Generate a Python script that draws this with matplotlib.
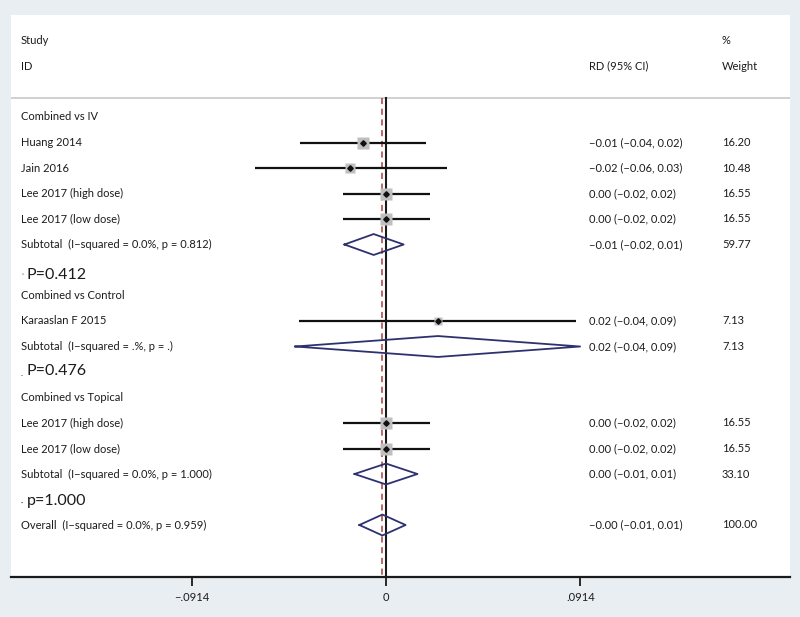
import matplotlib
matplotlib.use("Agg")
import matplotlib.pyplot as plt
from matplotlib.transforms import blended_transform_factory
import numpy as np

plt.rcParams['font.family'] = ['Lato', 'DejaVu Sans']

# ---------------- data ----------------
group_labels = ["Combined vs IV", "Combined vs Control", "Combined vs Topical"]
group_rows = [0, 7, 11]

study_labels = ["Huang 2014", "Jain 2016", "Lee 2017 (high dose)", "Lee 2017 (low dose)",
                "Karaaslan F 2015", "Lee 2017 (high dose)", "Lee 2017 (low dose)"]
study_rows = [1, 2, 3, 4, 8, 12, 13]
study_est = [-0.0108, -0.0168, 0.0000, 0.0000, 0.0244, 0.0000, 0.0000]
study_lo = [-0.0403, -0.0617, -0.0204, -0.0204, -0.0407, -0.0204, -0.0204]
study_hi = [0.0188, 0.0287, 0.0208, 0.0208, 0.0894, 0.0208, 0.0208]
study_rd_text = ["\u22120.01 (\u22120.04, 0.02)", "\u22120.02 (\u22120.06, 0.03)",
                 "0.00 (\u22120.02, 0.02)", "0.00 (\u22120.02, 0.02)",
                 "0.02 (\u22120.04, 0.09)", "0.00 (\u22120.02, 0.02)", "0.00 (\u22120.02, 0.02)"]
study_weight = [16.20, 10.48, 16.55, 16.55, 7.13, 16.55, 16.55]

pooled_labels = ["Subtotal  (I\u2212squared = 0.0%, p = 0.812)",
                 "Subtotal  (I\u2212squared = .%, p = .)",
                 "Subtotal  (I\u2212squared = 0.0%, p = 1.000)",
                 "Overall  (I\u2212squared = 0.0%, p = 0.959)"]
pooled_rows = [5, 9, 14, 16]
pooled_est = [-0.0058, 0.0244, 0.0000, -0.0017]
pooled_lo = [-0.0195, -0.0426, -0.0148, -0.0125]
pooled_hi = [0.0083, 0.0912, 0.0148, 0.0092]
pooled_rd_text = ["\u22120.01 (\u22120.02, 0.01)", "0.02 (\u22120.04, 0.09)",
                  "0.00 (\u22120.01, 0.01)", "\u22120.00 (\u22120.01, 0.01)"]
pooled_weight_text = ["59.77", "7.13", "33.10", "100.00"]

p_labels = ["P=0.412", "P=0.476", "p=1.000"]
p_marks = ["\u02c8", ".", "\u00b7"]
p_rows = [6.2, 9.95, 15.05]

tick_values = [-0.0914, 0.0, 0.0914]
tick_labels = ["\u2212.0914", "0", ".0914"]

# ---------------- figure ----------------
W, H = 800, 617
fig = plt.figure(figsize=(W / 100, H / 100), dpi=100)
fig.patch.set_facecolor('#e8eef2')

px_left, px_right, px_top, px_bottom = 11, 790, 15, 577
ax = fig.add_axes([px_left / W, 1 - px_bottom / H, (px_right - px_left) / W, (px_bottom - px_top) / H])
ax.set_facecolor('white')

zero_px = 386.0
scale = 2128.0  # px per unit
ax.set_xlim((px_left - zero_px) / scale, (px_right - zero_px) / scale)
row0_px, row_step = 117.0, 25.5
ax.set_ylim((px_bottom - row0_px) / row_step, (px_top - row0_px) / row_step)

for s in ['top', 'right', 'left']:
    ax.spines[s].set_visible(False)
ax.spines['bottom'].set_linewidth(1.6)
ax.spines['bottom'].set_color('#1a1a1a')
ax.set_yticks([])
ax.set_xticks(tick_values)
ax.set_xticklabels(tick_labels, fontsize=8, color='#1e1a1b')
ax.tick_params(axis='x', length=6.5, width=1.3, color='#1a1a1a', pad=4)

txt_color = '#1e1a1b'
fs = 8
tr = blended_transform_factory(fig.transFigure, ax.transData)
x_lab = 21 / W
x_rd = 589 / W
x_w = 722 / W

# header
header_line_row = (98 - row0_px) / row_step
ax.text(x_lab, -3, "Study", transform=tr, fontsize=fs, va='center', color=txt_color)
ax.text(x_lab, -2, "ID", transform=tr, fontsize=fs, va='center', color=txt_color)
ax.text(x_rd, -2, "RD (95% CI)", transform=tr, fontsize=fs, va='center', color=txt_color)
ax.text(x_w, -3, "%", transform=tr, fontsize=fs, va='center', color=txt_color)
ax.text(x_w, -2, "Weight", transform=tr, fontsize=fs, va='center', color=txt_color)
ax.axhline(header_line_row, color='#c8c8c8', lw=1.2)

# reference lines
bottom_row = (px_bottom - row0_px) / row_step
ax.plot([0, 0], [header_line_row, bottom_row], color='#1a1a1a', lw=1.5, zorder=2)
ax.plot([pooled_est[-1]] * 2, [header_line_row, bottom_row], color='#a8403c', lw=1.1,
        ls=(0, (4, 3)), zorder=3)

for lab, r in zip(group_labels, group_rows):
    ax.text(x_lab, r, lab, transform=tr, fontsize=fs, va='center', color=txt_color)

for lab, r, e, lo, hi, t, w in zip(study_labels, study_rows, study_est, study_lo, study_hi,
                                    study_rd_text, study_weight):
    ax.text(x_lab, r, lab, transform=tr, fontsize=fs, va='center', color=txt_color)
    ax.plot([lo, hi], [r, r], color='#111111', lw=1.6, zorder=4, solid_capstyle='butt')
    ms = 8.6 * np.sqrt(w / 16.2)
    ax.plot([e], [r], marker='s', ms=ms, color='#bfbfbf', mec='none', zorder=5)
    ax.plot([e], [r], marker='D', ms=2.8, color='#111111', zorder=6)
    ax.text(x_rd, r, t, transform=tr, fontsize=fs, va='center', color=txt_color)
    ax.text(x_w, r, f"{w:.2f}", transform=tr, fontsize=fs, va='center', color=txt_color)

for lab, r, e, lo, hi, t, wt in zip(pooled_labels, pooled_rows, pooled_est, pooled_lo,
                                     pooled_hi, pooled_rd_text, pooled_weight_text):
    ax.text(x_lab, r, lab, transform=tr, fontsize=fs, va='center', color=txt_color)
    h = 0.41
    ax.plot([lo, e, hi, e, lo], [r, r - h, r, r + h, r], color='#2e3170', lw=1.3, zorder=6)
    ax.text(x_rd, r, t, transform=tr, fontsize=fs, va='center', color=txt_color)
    ax.text(x_w, r, wt, transform=tr, fontsize=fs, va='center', color=txt_color)

for lab, mk, r in zip(p_labels, p_marks, p_rows):
    ax.text(x_lab, r + 0.1, mk, transform=tr, fontsize=6, va='center', color=txt_color)
    ax.text(27 / W, r, lab, transform=tr, fontsize=11.5, va='center', color=txt_color)

fig.savefig("out.png", dpi=100, facecolor=fig.get_facecolor())
